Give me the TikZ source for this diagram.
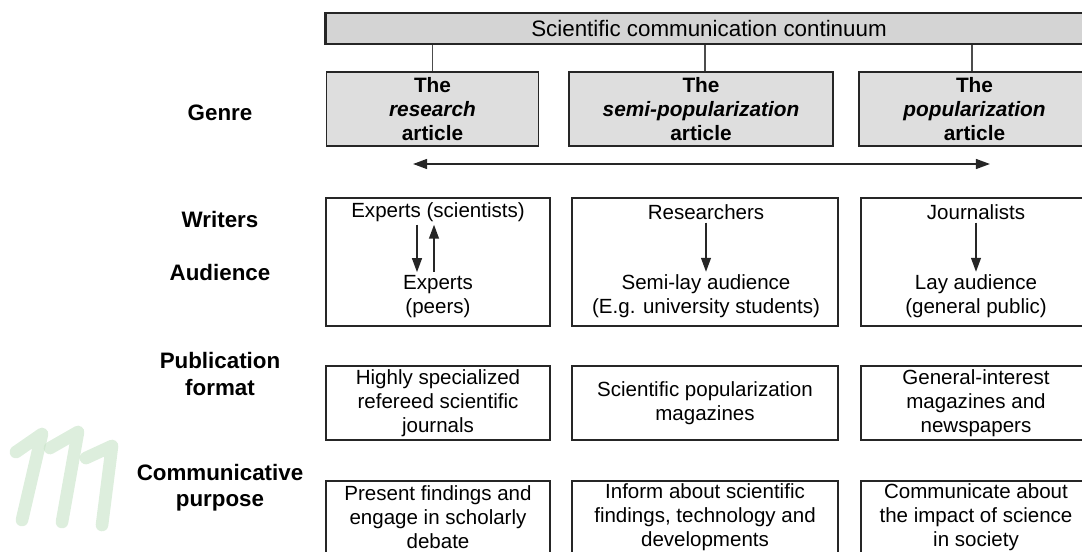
\documentclass[tikz,border=0pt]{standalone}
\usepackage{fontspec}
\setmainfont{Liberation Sans}
\usetikzlibrary{arrows.meta}

\begin{document}
\begin{tikzpicture}[x=0.025cm,y=-0.025cm]
    \tikzset{box/.style = {shape=rectangle,draw=black!85,line width=1.3pt,align=center,inner sep=0pt}}
    \tikzset{genrebox/.style = {box,fill=gray!26,font=\fontsize{14.8pt}{17.1pt}\selectfont\bfseries,minimum width=5.3cm,minimum height=1.85cm}}
    \tikzset{txt/.style = {align=center,inner sep=2pt,font=\fontsize{14.6pt}{17.1pt}\selectfont}}
    \tikzset{rowlabel/.style = {align=center,inner sep=1pt,font=\fontsize{15.9pt}{18.5pt}\selectfont\bfseries}}
    \tikzset{arr/.style = {line width=1.3pt,draw=black!85,-{Triangle[length=10pt,width=7pt]}}}
    \tikzset{link/.style = {line width=1pt,draw=black!70}}
    \useasboundingbox (0,0) rectangle (1082,551);
    \clip (0,0) rectangle (1082,551);
    % watermark strokes
    \begin{scope}[draw=green!50!black!22,line width=9pt,line cap=round,line join=round,opacity=0.6]
    \draw (16,452) -- (42,434) -- (22,520);
    \draw (50,448) -- (78,432) -- (62,522);
    \draw (86,458) -- (112,446) -- (102,525);
    \end{scope}
    % continuum bar
    \node[box,fill=gray!34,line width=2.1pt,minimum width=19.15cm,minimum height=0.775cm,
          font=\fontsize{15.9pt}{18pt}\selectfont] (bar) at (709,28.5) {Scientific communication continuum};
    % genres
    \node[genrebox] (g1) at (432.5,109) {The\\ \textit{research}\\ article};
    \node[genrebox,minimum width=6.6cm] (g2) at (701,109) {The\\ \textit{semi-popularization}\\ article};
    \node[genrebox,minimum width=5.78cm] (g3) at (974.5,109) {The\\ \textit{popularization}\\ article};
    \draw[link] (g1.north |- bar.south) -- (g1.north);
    \draw[link] ([xshift=0.1cm]g2.north |- bar.south) -- ([xshift=0.1cm]g2.north);
    \draw[link] ([xshift=-0.06cm]g3.north |- bar.south) -- ([xshift=-0.06cm]g3.north);
    \coordinate (lft) at (413,164);
    \coordinate (rgt) at (990,164);
    \draw[arr,{Triangle[length=10pt,width=7pt]}-{Triangle[length=10pt,width=7pt]}] (lft) -- (rgt);
    % row labels
    \node[rowlabel] (genre) at (220,113) {Genre};
    \node[rowlabel] (writers) at (220,220) {Writers};
    \node[rowlabel] (audience) at (220,273) {Audience};
    \node[rowlabel] (format) at (220,374) {Publication\\ format};
    \node[rowlabel] (purpose) at (220,488) {Communicative\\ purpose};
    % writers and audience
    \node[box,minimum width=5.6cm,minimum height=3.2cm] (wa1) at (438,262) {};
    \node[box,minimum width=6.65cm,minimum height=3.2cm] (wa2) at (705,262) {};
    \node[box,minimum width=5.75cm,minimum height=3.2cm] (wa3) at (976,262) {};
    \node[txt] (w1) at (438,212) {Experts (scientists)};
    \node[txt] (a1) at (438,296.5) {Experts\\ (peers)};
    \node[txt] (w2) at (706,212) {Researchers};
    \node[txt] (a2) at (706,296.5) {Semi-lay audience\\ (E.g. university students)};
    \node[txt] (w3) at (976,212) {Journalists};
    \node[txt] (a3) at (976,296.5) {Lay audience\\ (general public)};
    \draw[arr] ([xshift=-0.525cm]w1.south) -- ([xshift=-0.525cm]a1.north);
    \draw[arr] ([xshift=-0.1cm]a1.north) -- ([xshift=-0.1cm]w1.south);
    \draw[arr] (w2) -- (a2);
    \draw[arr] (w3) -- (a3);
    % publication format
    \node[box,txt,inner sep=0pt,minimum width=5.6cm,minimum height=1.85cm] (p1) at (438,403) {Highly specialized\\ refereed scientific\\ journals};
    \node[box,txt,inner sep=0pt,minimum width=6.65cm,minimum height=1.85cm] (p2) at (705,403) {Scientific popularization\\ magazines};
    \node[box,txt,inner sep=0pt,minimum width=5.75cm,minimum height=1.85cm] (p3) at (976,403) {General-interest\\ magazines and\\ newspapers};
    % communicative purpose
    \node[box,minimum width=5.6cm,minimum height=2.3cm] (c1) at (438,527) {};
    \node[box,minimum width=6.65cm,minimum height=2.3cm] (c2) at (705,527) {};
    \node[box,minimum width=5.75cm,minimum height=2.3cm] (c3) at (976,527) {};
    \node[txt] (t1) at (438,517) {Present findings and\\ engage in scholarly\\ debate};
    \node[txt] (t2) at (705,517) {Inform about scientific\\ findings, technology and\\ developments};
    \node[txt] (t3) at (976,517) {Communicate about\\ the impact of science\\ in society};
\end{tikzpicture}
\end{document}
